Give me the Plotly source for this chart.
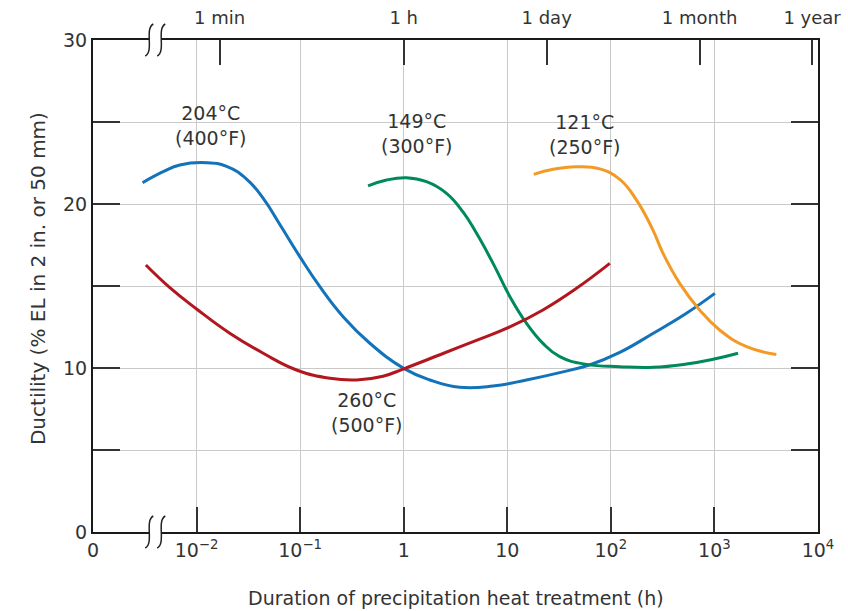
import plotly.graph_objects as go

# ---- data (hours, % elongation) ----
t204 = [0.00301, 0.00476, 0.0069, 0.0125, 0.0195, 0.0304, 0.044, 0.0637, 0.0993, 0.155,
        0.26, 0.471, 1.0, 1.79, 3.47, 7.29, 15.3, 32.1, 63, 122, 257, 537, 1010]
d204 = [21.3, 21.97, 22.38, 22.52, 22.29, 21.52, 20.34, 18.75, 16.79, 14.96,
        13.13, 11.51, 9.98, 9.27, 8.82, 8.90, 9.27, 9.72, 10.2, 10.95, 12.12, 13.34, 14.55]

t260 = [0.00324, 0.00552, 0.01, 0.0209, 0.044, 0.0923, 0.194, 0.35, 0.631, 1.0,
        2.43, 5.11, 10.7, 22.1, 46.6, 97.7]
d260 = [16.28, 14.9, 13.6, 12.12, 10.9, 9.88, 9.37, 9.27, 9.5, 9.95,
        10.9, 11.7, 12.52, 13.54, 14.86, 16.38]

t149 = [0.453, 0.682, 1.06, 1.66, 2.59, 3.75, 5.05, 7.29, 10.6, 15.3, 22.1, 32.1,
        58.1, 122, 257, 537, 971, 1690]
d149 = [21.1, 21.46, 21.6, 21.36, 20.65, 19.5, 18.21, 16.38, 14.35, 12.73, 11.5, 10.69,
        10.22, 10.08, 10.04, 10.24, 10.53, 10.9]

t121 = [18.0, 27.7, 46.6, 78.2, 122, 177, 255, 319, 462, 719, 1122, 2042, 3963]
d121 = [21.81, 22.12, 22.27, 22.14, 21.5, 20.24, 18.41, 16.99, 15.16, 13.54, 12.32, 11.3, 10.83]

series = [
    (t204, d204, "#1272BA", "204°C<br>(400°F)", -1.86, 24.8, "x"),
    (t149, d149, "#00895C", "149°C<br>(300°F)", 0.127, 24.3, "x"),
    (t121, d121, "#F39A26", "121°C<br>(250°F)", 1.749, 24.24, "x2"),
    (t260, d260, "#B2161E", "260°C<br>(500°F)", -0.356, 7.26, "x"),
]

x_tickvals = [1e-3, 1e-2, 1e-1, 1, 10, 1e2, 1e3, 1e4]
x_ticktext = ["0", "10<sup>−2</sup>", "10<sup>−1</sup>", "1", "10",
              "10<sup>2</sup>", "10<sup>3</sup>", "10<sup>4</sup>"]
top_tickvals = [1 / 60, 1, 24, 720, 8760]
top_ticktext = ["1 min", "1 h", "1 day", "1 month", "1 year"]
y_tickvals = [0, 5, 10, 15, 20, 25, 30]
y_ticktext = ["0", "", "10", "", "20", "", "30"]

FONT = "DejaVu Sans"
TXT = "#333333"

fig = go.Figure()
annotations = []
for t, d, c, label, lx, ly, xa in series:
    fig.add_trace(go.Scatter(x=t, y=d, mode="lines", xaxis=xa, yaxis="y",
                             line=dict(color=c, width=3, shape="spline", smoothing=1.3),
                             showlegend=False, hoverinfo="skip"))
    annotations.append(dict(x=lx, y=ly, xref="x", yref="y", text=label, showarrow=False,
                            font=dict(family=FONT, size=19, color=TXT), align="center"))

annotations.append(dict(x=0.5, y=-0.134, xref="paper", yref="paper",
                        text="Duration of precipitation heat treatment (h)", showarrow=False,
                        font=dict(family=FONT, size=19, color=TXT), yanchor="middle"))
annotations.append(dict(x=-0.076, y=0.516, xref="paper", yref="paper", textangle=-90,
                        text="Ductility (% EL in 2 in. or 50 mm)", showarrow=False,
                        font=dict(family=FONT, size=20, color=TXT), xanchor="center", yanchor="middle"))

# axis-break marks
shapes = []
bx = 0.0859
for ya in (0, 1):
    shapes.append(dict(type="rect", xref="paper", yref="paper", xsizemode="pixel", ysizemode="pixel",
                       xanchor=bx, yanchor=ya, x0=-6, x1=6, y0=-3, y1=3,
                       fillcolor="white", line=dict(width=0), layer="above"))
    for off in (-6, 6):
        shapes.append(dict(type="path", xref="paper", yref="paper", xsizemode="pixel",
                           ysizemode="pixel", xanchor=bx, yanchor=ya,
                           path=f"M {off+4},16 C {off-5},11 {off+5},-11 {off-4},-16",
                           line=dict(color="#222222", width=1.5), layer="above"))

fig.update_layout(
    width=848, height=611,
    margin=dict(l=93, r=30, t=40, b=79, autoexpand=False),
    paper_bgcolor="white", plot_bgcolor="white",
    font=dict(family=FONT, size=18, color=TXT),
    xaxis=dict(type="log", range=[-3, 4], tickvals=x_tickvals, ticktext=x_ticktext,
               ticks="inside", ticklen=25, tickwidth=1.5, tickcolor="#333333",
               showgrid=True, gridcolor="#c9c9c9", gridwidth=1, automargin=False,
               showline=True, linecolor="#1a1a1a", linewidth=2, zeroline=False,
               tickfont=dict(family=FONT, size=19, color=TXT)),
    xaxis2=dict(type="log", range=[-3, 4], overlaying="x", side="top", anchor="y",
                tickvals=top_tickvals, ticktext=top_ticktext, automargin=False,
                ticks="inside", ticklen=25, tickwidth=1.5, tickcolor="#333333",
                showgrid=False, showline=True, linecolor="#1a1a1a", linewidth=2,
                ticklabelstandoff=7,
                tickfont=dict(family=FONT, size=18, color=TXT)),
    yaxis=dict(range=[0, 30], tickvals=y_tickvals, ticktext=y_ticktext,
               ticks="inside", ticklen=27, tickwidth=1.5, tickcolor="#333333",
               showgrid=True, gridcolor="#c9c9c9", gridwidth=1, zeroline=False,
               showline=True, linecolor="#1a1a1a", linewidth=2, mirror="ticks",
               automargin=False,
               tickfont=dict(family=FONT, size=19, color=TXT)),
    annotations=annotations,
    shapes=shapes,
)

fig.write_html("out.html")
